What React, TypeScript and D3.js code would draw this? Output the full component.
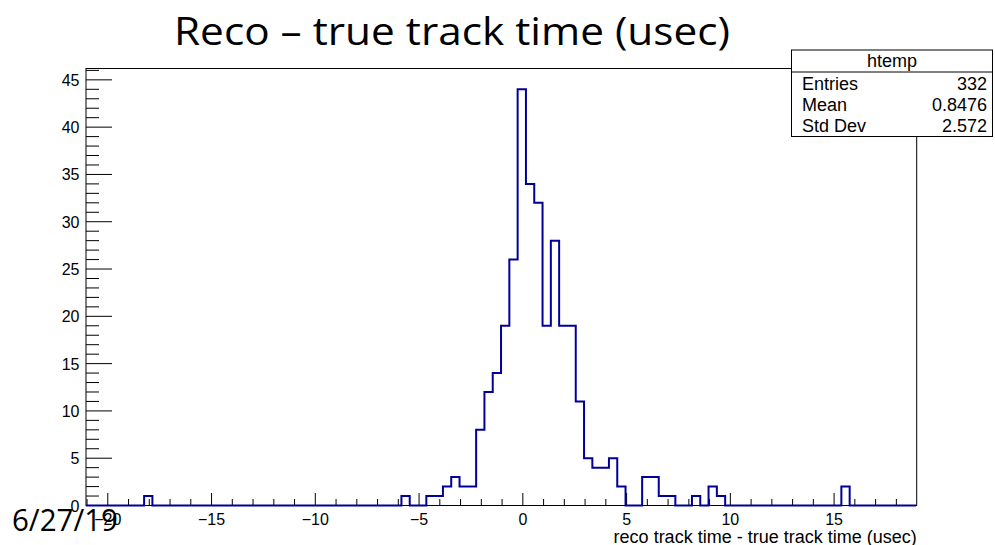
import React, { useRef, useEffect } from "react";
import * as d3 from "d3";

// histogram "htemp": 100 bins of 0.4 usec starting at xLow
const xLow = -21.05;
const xHigh = 18.98;
const binWidth = 0.4;
const counts = [
	0, 0, 0, 0, 0, 0, 0, 1, 0, 0,
	0, 0, 0, 0, 0, 0, 0, 0, 0, 0,
	0, 0, 0, 0, 0, 0, 0, 0, 0, 0,
	0, 0, 0, 0, 0, 0, 0, 0, 1, 0,
	0, 1, 1, 2, 3, 2, 2, 8, 12, 14,
	19, 26, 44, 34, 32, 19, 28, 19, 19, 11,
	5, 4, 4, 5, 2, 0, 0, 3, 3, 1,
	1, 0, 0, 1, 0, 2, 1, 0, 0, 0,
	0, 0, 0, 0, 0, 0, 0, 0, 0, 0,
	0, 2, 0, 0, 0, 0, 0, 0, 0, 0,
];
const xTickLabels = [-20, -15, -10, -5, 0, 5, 10, 15];
const yTickLabels = [0, 5, 10, 15, 20, 25, 30, 35, 40, 45];
const statNames = ["Entries", "Mean", "Std Dev"];
const statValues = ["332", "0.8476", "2.572"];

const slideTitle = "Reco \u2013 true track time (usec)";
const slideDate = "6/27/19";
const xTitle = "reco track time - true track time (usec)";
const histName = "htemp";

const App = () => {
	const svgRef = useRef(null);
	const width = 995;
	const height = 545;

	useEffect(() => {
		const svg = d3.select(svgRef.current);
		svg.selectChildren().remove();

		const left = 86, right = 916.7, top = 68.5, bottom = 505.5;
		const yMax = d3.max(counts) * 1.05;

		const x_scale = d3.scaleLinear().domain([xLow, xHigh]).range([left, right]);
		const y_scale = d3.scaleLinear().domain([0, yMax]).range([bottom, top]);
		const rootFont = "'Liberation Sans', Arial, Helvetica, sans-serif";
		const slideFont = "'Open Sans', 'Noto Sans', sans-serif";

		svg.append("rect").attr("width", width).attr("height", height).attr("fill", "white");

		// frame
		svg.append("rect")
			.attr("x", left).attr("y", top)
			.attr("width", right - left).attr("height", bottom - top)
			.attr("fill", "none").attr("stroke", "black").attr("stroke-width", 1);

		// x ticks: major every 5, minor every 1
		const xg = svg.append("g");
		d3.range(-21, 19).forEach(v => {
			const major = v % 5 === 0;
			xg.append("line")
				.attr("x1", x_scale(v)).attr("x2", x_scale(v))
				.attr("y1", bottom).attr("y2", bottom - (major ? 12.5 : 6.5))
				.attr("stroke", "black").attr("stroke-width", 1);
		});
		xTickLabels.forEach(v => {
			xg.append("text")
				.attr("x", x_scale(v)).attr("y", bottom + 19)
				.attr("text-anchor", "middle")
				.style("font-family", rootFont).style("font-size", "16px")
				.text(v < 0 ? "\u2212" + Math.abs(v) : String(v));
		});
		xg.append("text")
			.attr("x", right).attr("y", bottom + 37)
			.attr("text-anchor", "end")
			.style("font-family", rootFont).style("font-size", "18px")
			.text(xTitle);

		// y ticks: major every 5, minor every 1
		const yg = svg.append("g");
		d3.range(0, 47).forEach(v => {
			const major = v % 5 === 0;
			yg.append("line")
				.attr("x1", left).attr("x2", left + (major ? 26 : 13))
				.attr("y1", y_scale(v)).attr("y2", y_scale(v))
				.attr("stroke", "black").attr("stroke-width", 1);
		});
		yTickLabels.forEach(v => {
			yg.append("text")
				.attr("x", left - 6.5).attr("y", y_scale(v) + 6)
				.attr("text-anchor", "end")
				.style("font-family", rootFont).style("font-size", "16px")
				.text(v);
		});

		// histogram outline
		const pts = counts.map((c, i) => [xLow + i * binWidth, c]);
		pts.push([xLow + counts.length * binWidth, counts[counts.length - 1]]);
		svg.append("path")
			.datum(pts)
			.attr("fill", "none")
			.attr("stroke", "#000099")
			.attr("stroke-width", 2)
			.attr("d", d3.line()
				.x(d => x_scale(d[0]))
				.y(d => y_scale(d[1]))
				.curve(d3.curveStepAfter)
			);

		// stats box
		const bx = 791.5, by = 50, bw = 201, bh = 86.5;
		const sg = svg.append("g");
		sg.append("rect")
			.attr("x", bx).attr("y", by).attr("width", bw).attr("height", bh)
			.attr("fill", "white").attr("stroke", "black").attr("stroke-width", 1);
		sg.append("line")
			.attr("x1", bx).attr("x2", bx + bw).attr("y1", 72).attr("y2", 72)
			.attr("stroke", "black").attr("stroke-width", 1);
		sg.append("text")
			.attr("x", bx + bw / 2).attr("y", 67)
			.attr("text-anchor", "middle")
			.style("font-family", rootFont).style("font-size", "18px")
			.text(histName);
		statNames.forEach((n, i) => {
			sg.append("text")
				.attr("x", 802).attr("y", 90 + i * 21)
				.style("font-family", rootFont).style("font-size", "18px")
				.text(n);
			sg.append("text")
				.attr("x", 987).attr("y", 90 + i * 21)
				.attr("text-anchor", "end")
				.style("font-family", rootFont).style("font-size", "18px")
				.text(statValues[i]);
		});

		// slide title and date
		svg.append("text")
			.attr("x", 174).attr("y", 45)
			.attr("textLength", 556).attr("lengthAdjust", "spacingAndGlyphs")
			.style("font-family", slideFont).style("font-size", "38px")
			.text(slideTitle);
		svg.append("text")
			.attr("x", 12).attr("y", 531)
			.attr("textLength", 106).attr("lengthAdjust", "spacingAndGlyphs")
			.style("font-family", slideFont).style("font-size", "31px")
			.text(slideDate);
	});

	return (
		<div className='hist_plot'>
			<svg ref={svgRef} width={width} height={height}
				style={{ position: "absolute", left: 0, top: 0 }}>
			</svg>
		</div>
	)
};

export default App;
